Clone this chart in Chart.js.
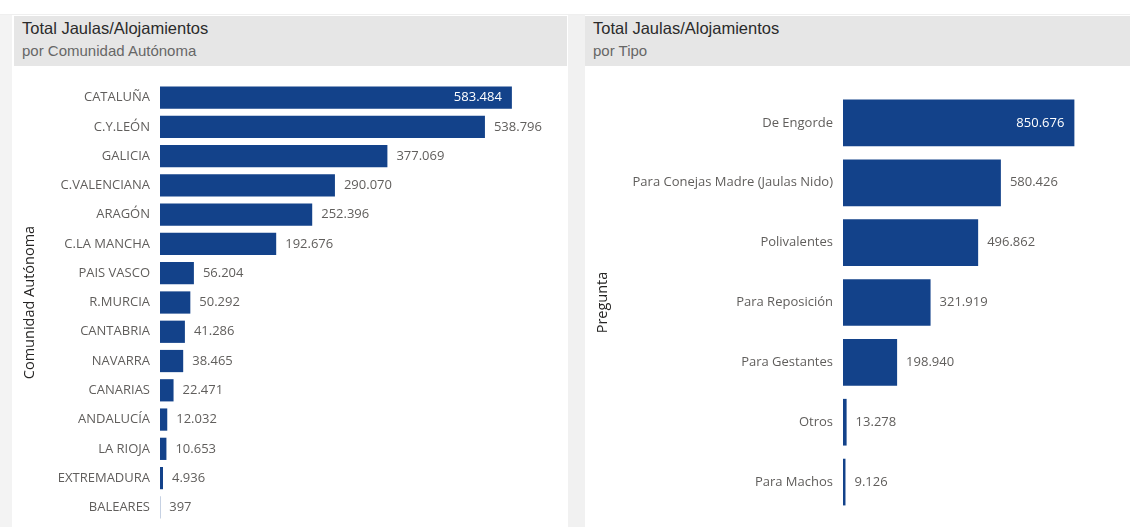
<!DOCTYPE html>
<html lang="es">
<head>
<meta charset="utf-8">
<title>Total Jaulas/Alojamientos</title>
<script src="https://cdn.jsdelivr.net/npm/chart.js@4.4.1/dist/chart.umd.min.js"></script>
<style>
  html, body { margin: 0; padding: 0; background: #fff; }
  body { width: 1130px; height: 527px; position: relative; overflow: hidden; font-family: "Liberation Sans", Arial, sans-serif; }
  .topline { position: absolute; left: 0; top: 14px; width: 1130px; height: 1px; background: #efefef; }
  .strip { position: absolute; left: 0; top: 15px; width: 12px; height: 512px; background: #f3f3f3; }
  .gap { position: absolute; left: 568px; top: 15px; width: 17px; height: 512px; background: #f1f1f1; }
  .panel { position: absolute; top: 15px; height: 512px; background: #fff; }
  .header { position: absolute; top: 1px; height: 50px; background: #e6e6e6; }
  .title { position: absolute; left: 8px; top: 1px; font-size: 16.5px; line-height: 22px; color: #2b2b2b; white-space: nowrap; }
  .subtitle { position: absolute; left: 8px; top: 26px; font-size: 15px; line-height: 18px; color: #666; white-space: nowrap; }
  .chartbox { position: absolute; top: 51px; height: 461px; }
</style>
</head>
<body>
<div class="topline"></div>
<div class="strip"></div>
<div class="gap"></div>

<div class="panel" style="left:12px;width:556px;">
  <div class="header" style="left:2px;width:553px;">
    <div class="title">Total Jaulas/Alojamientos</div>
    <div class="subtitle">por Comunidad Autónoma</div>
  </div>
  <div class="chartbox" style="left:0;width:555px;"><canvas id="chartComunidad"></canvas></div>
</div>

<div class="panel" style="left:585px;width:545px;">
  <div class="header" style="left:0;width:545px;">
    <div class="title">Total Jaulas/Alojamientos</div>
    <div class="subtitle">por Tipo</div>
  </div>
  <div class="chartbox" style="left:0;width:545px;"><canvas id="chartTipo"></canvas></div>
</div>

<script>
// datos por comunidad autónoma
const comunidades = ["CATALUÑA", "C.Y.LEÓN", "GALICIA", "C.VALENCIANA", "ARAGÓN", "C.LA MANCHA",
  "PAIS VASCO", "R.MURCIA", "CANTABRIA", "NAVARRA", "CANARIAS", "ANDALUCÍA", "LA RIOJA",
  "EXTREMADURA", "BALEARES"];
const jaulasComunidad = [583484, 538796, 377069, 290070, 252396, 192676, 56204, 50292, 41286,
  38465, 22471, 12032, 10653, 4936, 397];

// datos por tipo
const tipos = ["De Engorde", "Para Conejas Madre (Jaulas Nido)", "Polivalentes", "Para Reposición",
  "Para Gestantes", "Otros", "Para Machos"];
const jaulasTipo = [850676, 580426, 496862, 321919, 198940, 13278, 9126];

const barColor = '#13428a';
const labelFont = '"Segoe UI", "Open Sans", sans-serif';

function fmt(v) {
  return String(v).replace(/\B(?=(\d{3})+(?!\d))/g, '.');
}

// etiquetas de valor (dentro de la barra si no cabe fuera)
const valueLabels = {
  id: 'valueLabels',
  afterDatasetsDraw(chart) {
    const { ctx, chartArea } = chart;
    const meta = chart.getDatasetMeta(0);
    const values = chart.data.datasets[0].data;
    ctx.save();
    ctx.font = '13px ' + labelFont;
    ctx.textBaseline = 'middle';
    meta.data.forEach((bar, i) => {
      const txt = fmt(values[i]);
      const w = ctx.measureText(txt).width;
      if (bar.x + 9 + w > chartArea.right) {
        ctx.fillStyle = '#ffffff';
        ctx.textAlign = 'right';
        ctx.fillText(txt, bar.x - 10, bar.y);
      } else {
        ctx.fillStyle = '#605e5c';
        ctx.textAlign = 'left';
        ctx.fillText(txt, bar.x + 9, bar.y);
      }
    });
    ctx.restore();
  }
};

function makeChart(id, labels, values, opts) {
  return new Chart(document.getElementById(id), {
    type: 'bar',
    data: {
      labels: labels,
      datasets: [{
        data: values,
        backgroundColor: barColor,
        borderWidth: 0,
        barPercentage: opts.barPct,
        categoryPercentage: 1
      }]
    },
    options: {
      indexAxis: 'y',
      responsive: true,
      maintainAspectRatio: false,
      animation: false,
      layout: { padding: opts.padding },
      plugins: { legend: { display: false }, tooltip: { enabled: false } },
      scales: {
        x: { display: false, min: 0, max: opts.max },
        y: {
          grid: { display: false, drawTicks: false },
          border: { display: false },
          ticks: { color: '#605e5c', font: { family: labelFont, size: 13 }, padding: 10, autoSkip: false },
          title: {
            display: true,
            text: opts.axisTitle,
            color: '#252423',
            font: { family: labelFont, size: 14.5 },
            padding: { top: 9, bottom: 0 }
          },
          afterFit(scale) {
            scale.width = opts.axisWidth;
            scale.paddingTop = 0;
            scale.paddingBottom = 0;
          }
        }
      }
    },
    plugins: [valueLabels]
  });
}

makeChart('chartComunidad', comunidades, jaulasComunidad, {
  max: 650000, axisWidth: 148, barPct: 0.76, axisTitle: 'Comunidad Autónoma',
  padding: { top: 17, bottom: 5, left: 0, right: 15 }
});

makeChart('chartTipo', tipos, jaulasTipo, {
  max: 1000000, axisWidth: 258, barPct: 0.78, axisTitle: 'Pregunta',
  padding: { top: 27, bottom: 15, left: 0, right: 15 }
});
</script>
</body>
</html>
